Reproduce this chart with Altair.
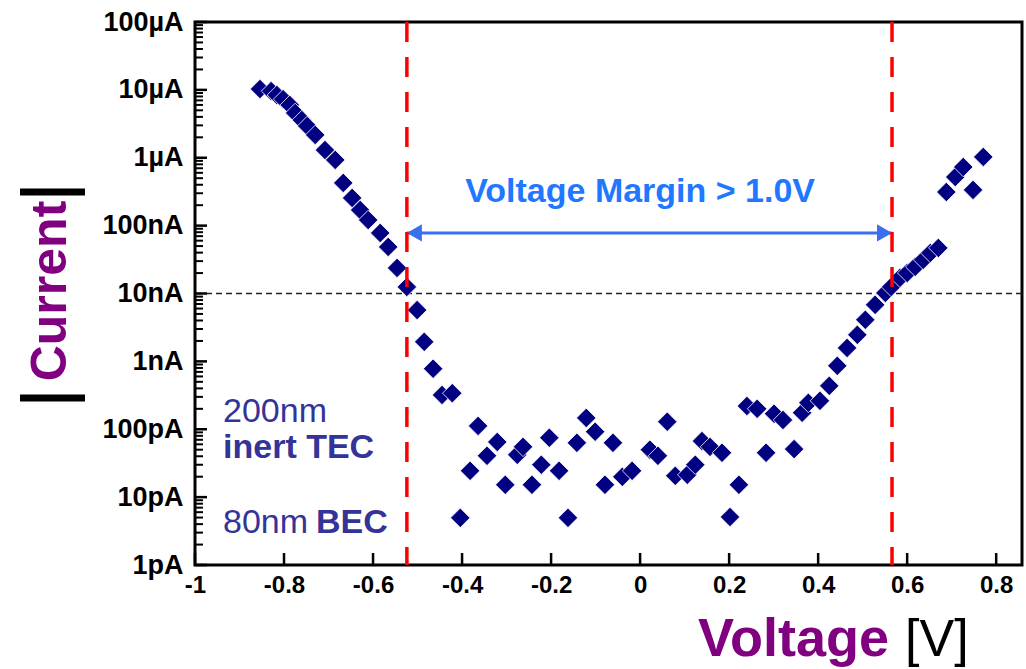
import altair as alt
import pandas as pd

# ---- data ------------------------------------------------------------------
voltage = [-0.854, -0.829, -0.816, -0.802, -0.787, -0.775, -0.760, -0.748, -0.730, -0.708,
           -0.685, -0.667, -0.647, -0.629, -0.611, -0.584, -0.566, -0.546, -0.524, -0.501,
           -0.485, -0.465, -0.445, -0.422, -0.404, -0.382, -0.364, -0.344, -0.321, -0.303,
           -0.276, -0.263, -0.243, -0.222, -0.204, -0.182, -0.162, -0.142, -0.121, -0.101,
           -0.079, -0.061, -0.040, -0.018, 0.022, 0.040, 0.061, 0.079, 0.106, 0.124,
           0.139, 0.157, 0.184, 0.202, 0.222, 0.240, 0.263, 0.283, 0.301, 0.321,
           0.346, 0.364, 0.378, 0.404, 0.425, 0.443, 0.465, 0.488, 0.506, 0.528,
           0.551, 0.564, 0.584, 0.600, 0.618, 0.636, 0.652, 0.670, 0.688, 0.708,
           0.726, 0.748, 0.771]
current = [1.03e-5, 9.6e-6, 8.4e-6, 7.3e-6, 6.0e-6, 4.57e-6, 3.6e-6, 2.94e-6, 2.17e-6, 1.30e-6,
           9.3e-7, 4.26e-7, 2.56e-7, 1.70e-7, 1.21e-7, 7.8e-8, 4.86e-8, 2.38e-8, 1.25e-8, 5.7e-9,
           1.94e-9, 7.8e-10, 3.2e-10, 3.4e-10, 4.95e-12, 2.44e-11, 1.12e-10, 4.06e-11, 6.5e-11, 1.52e-11,
           4.2e-11, 5.5e-11, 1.52e-11, 3.0e-11, 7.5e-11, 2.44e-11, 4.95e-12, 6.3e-11, 1.47e-10, 9.2e-11,
           1.52e-11, 6.3e-11, 1.99e-11, 2.44e-11, 5.0e-11, 4.06e-11, 1.29e-10, 2.06e-11, 2.13e-11, 3.0e-11,
           6.7e-11, 5.5e-11, 4.5e-11, 5.1e-12, 1.52e-11, 2.2e-10, 2.0e-10, 4.5e-11, 1.69e-10, 1.37e-10,
           5.1e-11, 1.75e-10, 2.45e-10, 2.62e-10, 4.36e-10, 8.6e-10, 1.58e-9, 2.46e-9, 4.1e-9, 6.8e-9,
           1.02e-8, 1.25e-8, 1.70e-8, 2.01e-8, 2.47e-8, 3.13e-8, 3.96e-8, 4.7e-8, 3.13e-7, 5.2e-7,
           7.3e-7, 3.36e-7, 1.03e-6]

margin_voltages = [-0.524, 0.566]
threshold_current = 1e-8
arrow_current = 7.8e-8
margin_text = "Voltage Margin > 1.0V"
margin_text_pos = [0.0, 3.1e-7]

y_tick_values = [1e-12, 1e-11, 1e-10, 1e-9, 1e-8, 1e-7, 1e-6, 1e-5, 1e-4]
y_tick_labels = ["1pA", "10pA", "100pA", "1nA", "10nA", "100nA", "1µA", "10µA", "100µA"]
y_tick_exps = [-12, -11, -10, -9, -8, -7, -6, -5, -4]
y_minor_mult = [2, 3, 4, 5, 6, 7, 8, 9]
x_tick_values = [-1.0, -0.8, -0.6, -0.4, -0.2, 0.0, 0.2, 0.4, 0.6, 0.8]
x_tick_labels = ["-1", "-0.8", "-0.6", "-0.4", "-0.2", "0", "0.2", "0.4", "0.6", "0.8"]

note_texts = ["200nm", "inert TEC", "80nm", "BEC"]
note_weights = ["normal", "bold", "normal", "bold"]
note_v = [-0.937, -0.937, -0.937, -0.728]
note_i = [1.29e-10, 3.79e-11, 2.98e-12, 2.98e-12]

# ---- layout -----------------------------------------------------------------
W, H = 827, 543
PAD = {"left": 195, "top": 22, "right": 4, "bottom": 104}
FONT = "Liberation Sans"
NAVY = "#000080"
PURPLE = "#800080"
NOTE_BLUE = "#333399"
ARROW_BLUE = "#3a6ff0"

xs = alt.Scale(domain=[-1.0, 0.858], nice=False, zero=False)
ys = alt.Scale(type="log", domain=[1e-12, 1e-4], nice=False)

df = pd.DataFrame({"V": voltage, "I": current})

y_label_expr = " : ".join(
    f"abs(log(datum.value)/LN10 - ({e})) < 0.01 ? '{lab}'" for e, lab in zip(y_tick_exps, y_tick_labels)
) + " : ''"
x_label_expr = " : ".join(
    f"abs(datum.value - ({v})) < 0.001 ? '{lab}'" for v, lab in zip(x_tick_values, x_tick_labels)
) + " : ''"

# points with the labelled axes
points = alt.Chart(df).mark_point(
    shape="diamond", filled=True, size=380, color=NAVY, opacity=1,
    stroke="white", strokeWidth=0.8,
).encode(
    x=alt.X("V:Q", scale=xs, axis=alt.Axis(
        orient="bottom", values=x_tick_values, labelExpr=x_label_expr, ticks=False, domain=False,
        grid=False, title=None, labelFont=FONT, labelFontSize=24, labelFontWeight="bold",
        labelColor="black", labelPadding=8, labelFlush=False, labelOverlap=False)),
    y=alt.Y("I:Q", scale=ys, axis=alt.Axis(
        orient="left", values=y_tick_values, labelExpr=y_label_expr, ticks=False, domain=False,
        grid=False, title=None, labelFont=FONT, labelFontSize=27, labelFontWeight="bold",
        labelColor="black", labelPadding=12, labelFlush=False, labelOverlap=False)),
)

# inward-pointing ticks, positioned by the scales (drawn as short segments)
major_df = pd.DataFrame({"I": y_tick_values})
minor_df = pd.DataFrame({"I": [m * 10.0 ** e for e in y_tick_exps[:-1] for m in y_minor_mult]})
y_major = alt.Chart(major_df).mark_rule(color="black", strokeWidth=2.5).encode(
    y=alt.Y("I:Q", scale=ys, axis=None), y2="I:Q", x=alt.value(0), x2=alt.value(12))
y_minor = alt.Chart(minor_df).mark_rule(color="black", strokeWidth=2).encode(
    y=alt.Y("I:Q", scale=ys, axis=None), y2="I:Q", x=alt.value(0), x2=alt.value(8))
xt_df = pd.DataFrame({"V": x_tick_values})
x_ticks = alt.Chart(xt_df).mark_rule(color="black", strokeWidth=2.5).encode(
    x=alt.X("V:Q", scale=xs, axis=None), x2="V:Q", y=alt.value(H), y2=alt.value(H - 12))

thr_df = pd.DataFrame({"I": [threshold_current]})
thr = alt.Chart(thr_df).mark_rule(color="#222222", strokeWidth=1.5, strokeDash=[6, 4]).encode(
    y=alt.Y("I:Q", scale=ys, axis=None)
)

marg_df = pd.DataFrame({"V": margin_voltages})
red = alt.Chart(marg_df).mark_rule(color="#ff0000", strokeWidth=3.5, strokeDash=[20, 15]).encode(
    x=alt.X("V:Q", scale=xs, axis=None)
)

arrow_df = pd.DataFrame({"V": [margin_voltages[0]], "V2": [margin_voltages[1]], "I": [arrow_current]})
arrow_line = alt.Chart(arrow_df).mark_rule(color=ARROW_BLUE, strokeWidth=3).encode(
    x=alt.X("V:Q", scale=xs, axis=None), x2="V2:Q", y=alt.Y("I:Q", scale=ys, axis=None)
)
head_l = alt.Chart(pd.DataFrame({"V": [margin_voltages[0]], "I": [arrow_current]})).mark_point(
    shape="triangle-left", filled=True, size=300, color=ARROW_BLUE, opacity=1, xOffset=7.5
).encode(x=alt.X("V:Q", scale=xs, axis=None), y=alt.Y("I:Q", scale=ys, axis=None))
head_r = alt.Chart(pd.DataFrame({"V": [margin_voltages[1]], "I": [arrow_current]})).mark_point(
    shape="triangle-right", filled=True, size=300, color=ARROW_BLUE, opacity=1, xOffset=-7.5
).encode(x=alt.X("V:Q", scale=xs, axis=None), y=alt.Y("I:Q", scale=ys, axis=None))

mtext = alt.Chart(pd.DataFrame({"V": [margin_text_pos[0]], "I": [margin_text_pos[1]], "t": [margin_text]})).mark_text(
    font=FONT, fontSize=34, fontWeight="bold", color="#1f78ff", align="center", baseline="middle"
).encode(x=alt.X("V:Q", scale=xs, axis=None), y=alt.Y("I:Q", scale=ys, axis=None), text="t:N")

notes_df = pd.DataFrame({"V": note_v, "I": note_i, "t": note_texts, "w": note_weights})
notes_n = alt.Chart(notes_df[notes_df.w == "normal"]).mark_text(
    font=FONT, fontSize=34, fontWeight="normal", color=NOTE_BLUE, align="left", baseline="alphabetic"
).encode(x=alt.X("V:Q", scale=xs, axis=None), y=alt.Y("I:Q", scale=ys, axis=None), text="t:N")
notes_b = alt.Chart(notes_df[notes_df.w == "bold"]).mark_text(
    font=FONT, fontSize=34, fontWeight="bold", color=NOTE_BLUE, align="left", baseline="alphabetic"
).encode(x=alt.X("V:Q", scale=xs, axis=None), y=alt.Y("I:Q", scale=ys, axis=None), text="t:N")

# axis titles drawn as text (two colours each)
one = pd.DataFrame({"a": [0]})
xt1 = alt.Chart(one).mark_text(font=FONT, fontSize=54, fontWeight="bold", color=PURPLE,
                               align="left", baseline="alphabetic").encode(
    x=alt.value(503), y=alt.value(634), text=alt.value("Voltage"))
xt2 = alt.Chart(one).mark_text(font=FONT, fontSize=52, fontWeight="normal", color="black",
                               align="left", baseline="alphabetic").encode(
    x=alt.value(710), y=alt.value(634), text=alt.value("[V]"))
yt = alt.Chart(one).mark_text(font=FONT, fontSize=50, fontWeight="bold", color=PURPLE,
                              align="center", baseline="middle", angle=270).encode(
    x=alt.value(-144), y=alt.value(269), text=alt.value("Current"))
bar1 = alt.Chart(one).mark_rule(color="black", strokeWidth=7, strokeCap="butt").encode(
    x=alt.value(-175), x2=alt.value(-110), y=alt.value(170))
bar2 = alt.Chart(one).mark_rule(color="black", strokeWidth=7, strokeCap="butt").encode(
    x=alt.value(-175), x2=alt.value(-110), y=alt.value(376))

chart = alt.layer(
    thr, y_major, y_minor, x_ticks, arrow_line, head_l, head_r, mtext, notes_n, notes_b,
    points, red, xt1, xt2, yt, bar1, bar2,
).resolve_axis(x="independent", y="independent").properties(
    width=W, height=H,
    autosize=alt.AutoSizeParams(type="none"),
    padding=PAD,
    background="white",
).configure_view(stroke="black", strokeWidth=3)

chart.save("out.html", embed_options={"renderer": "svg", "actions": False})
